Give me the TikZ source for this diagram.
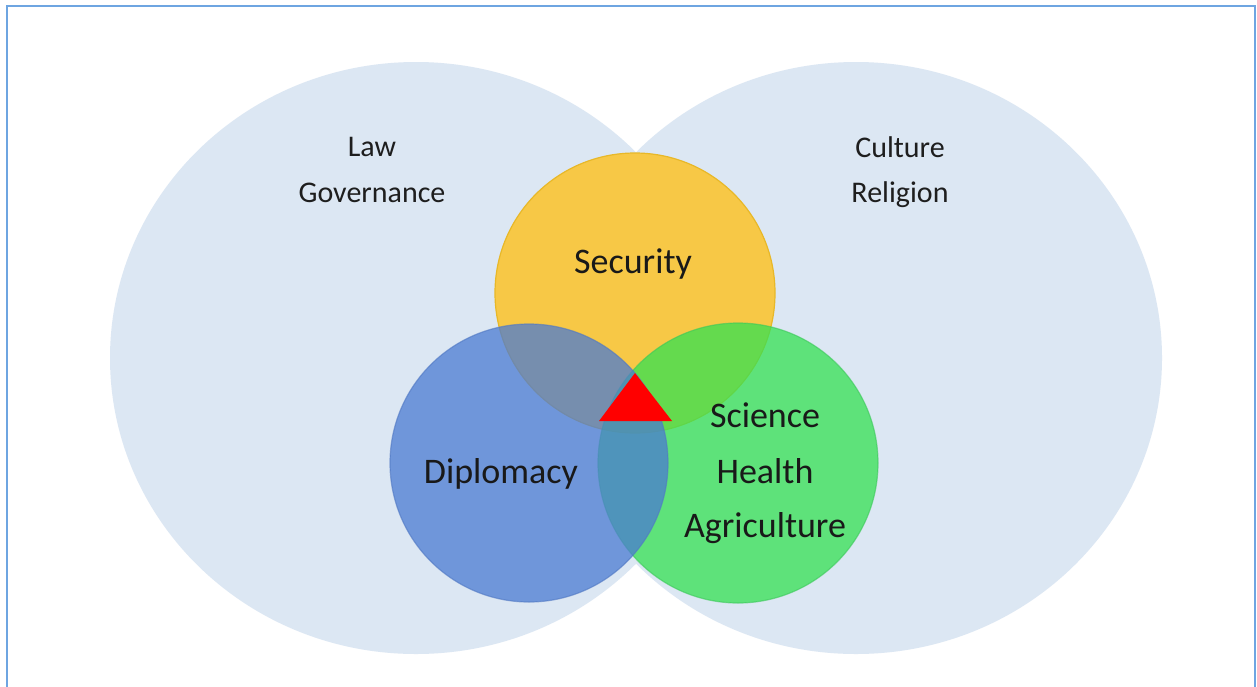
\documentclass[tikz,border=0pt]{standalone}
\usepackage{fontspec}
\setmainfont{Carlito}
\definecolor{bigc}{RGB}{220,231,243}
\definecolor{frame}{RGB}{110,165,225}
\definecolor{secc}{RGB}{247,200,70}
\definecolor{secr}{RGB}{232,184,40}
\definecolor{dipc}{RGB}{75,123,210}
\definecolor{dipr}{RGB}{80,120,195}
\definecolor{scic}{RGB}{52,225,82}
\definecolor{scir}{RGB}{60,200,90}
\definecolor{txt}{RGB}{30,30,30}
\begin{document}
\begin{tikzpicture}[x=1pt,y=-1pt,
  bigcircle/.style={fill=bigc},
  biglabel/.style={anchor=base,inner sep=0pt,text=txt,font=\fontsize{30}{36}\selectfont},
  smalllabel/.style={anchor=base,inner sep=0pt,text=black!90,font=\fontsize{36}{42}\selectfont}]
\useasboundingbox (0,0) rectangle (1257,686);
\fill[white] (0,0) rectangle (1257,686);
% frame
\draw[frame,line width=2pt] (7,700) -- (7,6) -- (1255,6) -- (1255,700);
% big circles
\fill[bigcircle] (416,358) ellipse [x radius=306, y radius=296];
\fill[bigcircle] (856,358) ellipse [x radius=306, y radius=296];
% coloured circles
\path[fill=secc,draw=secr,line width=1.2pt] (635,293) circle [radius=140];
\path[fill=scic,fill opacity=0.75,draw=scir,draw opacity=0.6,line width=1.2pt] (738,463) circle [radius=140];
\path[fill=dipc,fill opacity=0.75,draw=dipr,draw opacity=0.6,line width=1.2pt] (529,463) circle [radius=139];
% red triangle
\fill[red] (635,373) -- (599,421) -- (672,421) -- cycle;
% labels
\node[biglabel] (law) at (372,156) {Law};
\node[biglabel] (gov) at (372,202) {Governance};
\node[biglabel] (cul) at (900,157) {Culture};
\node[biglabel] (rel) at (900,202) {Religion};
\node[smalllabel] (sec) at (633,273) {Security};
\node[smalllabel] (dip) at (501,483) {Diplomacy};
\node[smalllabel] (sci) at (765,427) {Science};
\node[smalllabel] (hea) at (765,483) {Health};
\node[smalllabel] (agr) at (765,537) {Agriculture};
\end{tikzpicture}
\end{document}
